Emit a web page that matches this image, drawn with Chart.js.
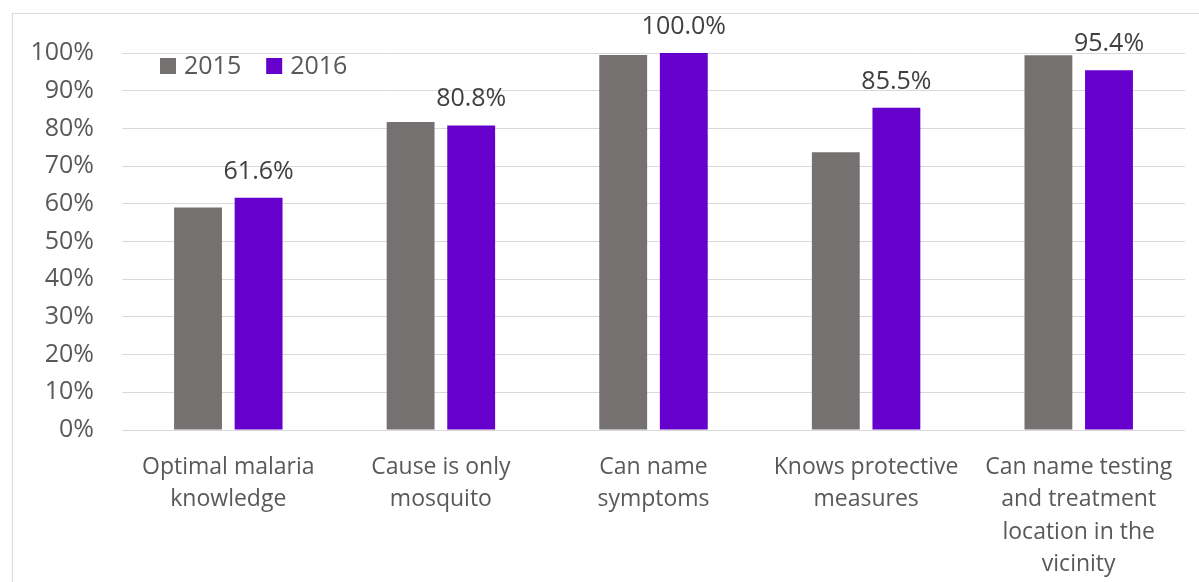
<!DOCTYPE html>
<html>
<head>
<meta charset="utf-8">
<script src="https://cdn.jsdelivr.net/npm/chart.js@4"></script>
<style>
  html, body { margin: 0; padding: 0; background: #fff; }
  #wrap { position: relative; width: 1199px; height: 582px; overflow: hidden; }
  #frame { position: absolute; left: 12px; top: 13px; width: 1300px; height: 700px;
           border-left: 1px solid #d9d9d9; border-top: 1px solid #d9d9d9; }
  canvas { position: absolute; left: 0; top: 0; }
</style>
</head>
<body>
<div id="wrap">
  <div id="frame"></div>
  <canvas id="knowledgeChart" width="1199" height="582"></canvas>
</div>
<script>
// categories and yearly shares (percent)
const categories = [
    ['Optimal malaria', 'knowledge'],
    ['Cause is only', 'mosquito'],
    ['Can name', 'symptoms'],
    ['Knows protective', 'measures'],
    ['Can name testing', 'and treatment', 'location in the', 'vicinity']
];
const values2015 = [59.0, 81.7, 99.5, 73.7, 99.4];
const values2016 = [61.6, 80.8, 100.0, 85.5, 95.4];
const yTicks = [0, 10, 20, 30, 40, 50, 60, 70, 80, 90, 100];

const grayColor = '#767171';
const purpleColor = '#6600cc';

Chart.defaults.font.family = '"Open Sans", sans-serif';
Chart.defaults.font.size = 25;
Chart.defaults.color = '#595959';

// value labels above the 2016 bars
const valueLabels = {
    id: 'valueLabels',
    afterDatasetsDraw(chart) {
        const ctx = chart.ctx;
        const meta = chart.getDatasetMeta(1);
        ctx.save();
        ctx.font = '25px "Open Sans", sans-serif';
        ctx.fillStyle = '#404040';
        ctx.textAlign = 'center';
        ctx.textBaseline = 'alphabetic';
        meta.data.forEach(function(bar, i) {
            ctx.fillText(values2016[i].toFixed(1) + '%', bar.x, bar.y - 19);
        });
        ctx.restore();
    }
};

// legend drawn inside the plot area, top left
const innerLegend = {
    id: 'innerLegend',
    afterDraw(chart) {
        const ctx = chart.ctx;
        ctx.save();
        ctx.font = '25px "Open Sans", sans-serif';
        ctx.textBaseline = 'middle';
        ctx.textAlign = 'left';
        let x = 160;
        const y = 66;
        chart.data.datasets.forEach(function(ds) {
            ctx.fillStyle = ds.backgroundColor;
            ctx.fillRect(x, y - 8, 16, 16);
            ctx.fillStyle = '#595959';
            ctx.fillText(ds.label, x + 24, y + 1);
            x += 24 + ctx.measureText(ds.label).width + 25;
        });
        ctx.restore();
    }
};

new Chart(document.getElementById('knowledgeChart'), {
    type: 'bar',
    data: {
        labels: categories,
        datasets: [
            { label: '2015', data: values2015, backgroundColor: grayColor,
              categoryPercentage: 0.57, barPercentage: 0.79 },
            { label: '2016', data: values2016, backgroundColor: purpleColor,
              categoryPercentage: 0.57, barPercentage: 0.79 }
        ]
    },
    options: {
        responsive: false,
        animation: false,
        layout: { padding: { top: 53, right: 14, left: 0, bottom: 0 } },
        plugins: {
            legend: { display: false },
            tooltip: { enabled: false }
        },
        scales: {
            x: {
                grid: { display: false },
                border: { display: false },
                ticks: { padding: 13, maxRotation: 0, autoSkip: false,
                         font: { size: 23, lineHeight: 1.41 } },
                afterFit(scale) { scale.height = 152; }
            },
            y: {
                min: 0,
                max: 100,
                afterBuildTicks(scale) {
                    scale.ticks = yTicks.map(v => ({ value: v }));
                },
                ticks: {
                    padding: 28,
                    callback: v => v + '%'
                },
                grid: { color: '#d9d9d9', lineWidth: 1, drawTicks: false },
                border: { display: false },
                afterFit(scale) { scale.width = 122; }
            }
        }
    },
    plugins: [valueLabels, innerLegend]
});
</script>
</body>
</html>
